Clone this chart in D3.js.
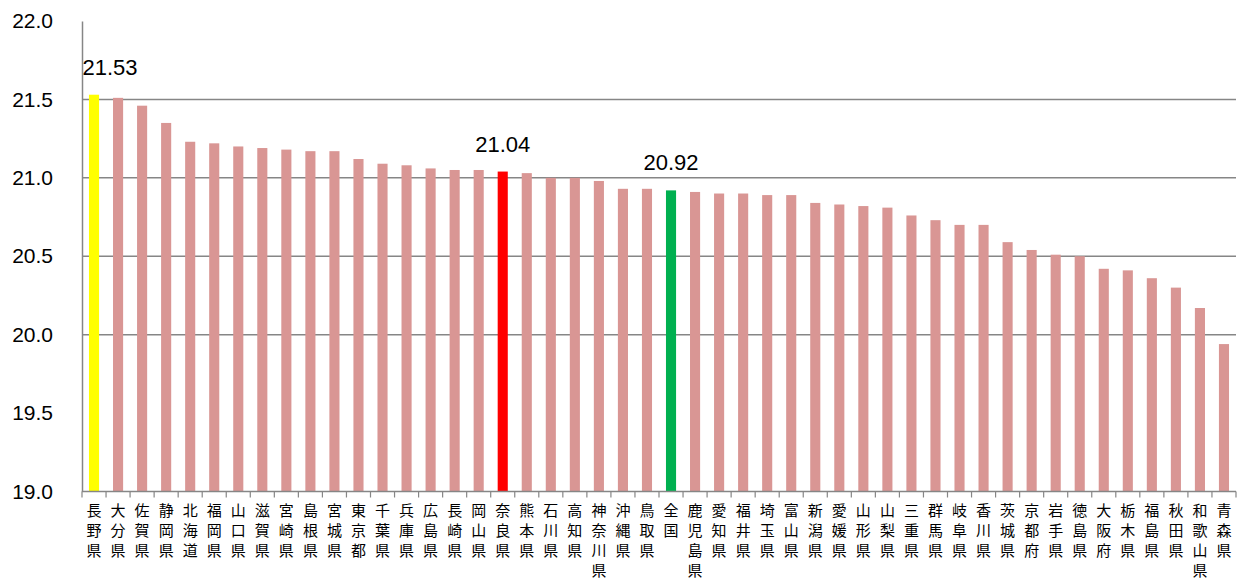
<!DOCTYPE html>
<html><head><meta charset="utf-8">
<script src="https://cdn.jsdelivr.net/npm/d3@7"></script>
<style>body{margin:0;background:#fff}svg{display:block}</style>
</head><body>
<svg id="c" width="1237" height="587"></svg>
<script>
const categories = ["長野県","大分県","佐賀県","静岡県","北海道","福岡県","山口県","滋賀県","宮崎県","島根県","宮城県","東京都","千葉県","兵庫県","広島県","長崎県","岡山県","奈良県","熊本県","石川県","高知県","神奈川県","沖縄県","鳥取県","全国","鹿児島県","愛知県","福井県","埼玉県","富山県","新潟県","愛媛県","山形県","山梨県","三重県","群馬県","岐阜県","香川県","茨城県","京都府","岩手県","徳島県","大阪府","栃木県","福島県","秋田県","和歌山県","青森県"];
const values = [21.53,21.51,21.46,21.35,21.23,21.22,21.20,21.19,21.18,21.17,21.17,21.12,21.09,21.08,21.06,21.05,21.05,21.04,21.03,21.00,21.00,20.98,20.93,20.93,20.92,20.91,20.90,20.90,20.89,20.89,20.84,20.83,20.82,20.81,20.76,20.73,20.70,20.70,20.59,20.54,20.51,20.50,20.42,20.41,20.36,20.30,20.17,19.94];
const yTicks = [19.0,19.5,20.0,20.5,21.0,21.5,22.0];
const gridTicks = [20.0,20.5,21.0,21.5];
const highlight = {"長野県":"#FFFF00","奈良県":"#FF0000","全国":"#00B050"};
const labeled = ["長野県","奈良県","全国"];

(function(){
const pLeft = 82, pRight = 1236, pTop = 21, pBottom = 491.5;
const svg = d3.select("#c");
const x = d3.scaleBand().domain(categories).range([pLeft, pRight]).paddingInner(0.58).paddingOuter(0.29);
const y = d3.scaleLinear().domain([19, 22]).range([pBottom, pTop]);
const numFont = "'Liberation Sans', Arial, sans-serif";

// gridlines
svg.append("g").selectAll("line").data(gridTicks).join("line")
  .attr("x1", pLeft).attr("x2", pRight)
  .attr("y1", d => y(d)).attr("y2", d => y(d))
  .attr("stroke", "#868686").attr("stroke-width", 1.5);

// bars
svg.append("g").selectAll("rect").data(categories).join("rect")
  .attr("x", d => x(d)).attr("width", x.bandwidth())
  .attr("y", (d, i) => y(values[i]))
  .attr("height", (d, i) => y(19) - y(values[i]))
  .attr("fill", d => highlight[d] || "#D99694");

// y axis
const yAxis = svg.append("g").attr("transform", `translate(${pLeft},0)`)
  .call(d3.axisLeft(y).tickValues(yTicks).tickFormat(d3.format(".1f")).tickSize(0).tickPadding(29));
yAxis.select(".domain").attr("stroke", "#868686").attr("stroke-width", 1.5);
yAxis.selectAll("text").attr("font-family", numFont).attr("font-size", 21).attr("fill", "#000");

// x axis line + tick marks at band boundaries
const step = x.step();
const bounds = d3.range(categories.length + 1).map(i => pLeft + i * step);
svg.append("line").attr("x1", pLeft).attr("x2", pRight).attr("y1", pBottom).attr("y2", pBottom)
  .attr("stroke", "#868686").attr("stroke-width", 1.5);
svg.append("g").selectAll("line").data(bounds).join("line")
  .attr("x1", d => d).attr("x2", d => d).attr("y1", pBottom).attr("y2", pBottom + 6)
  .attr("stroke", "#868686").attr("stroke-width", 1.2);

// category labels: one character per line, stacked vertically
const chars = [];
categories.forEach(c => Array.from(c).forEach((ch, k) => chars.push({c, ch, k})));
svg.append("g").selectAll("text").data(chars).join("text")
  .attr("font-family", "'Noto Sans CJK JP', sans-serif").attr("font-size", 15).attr("fill", "#000")
  .attr("text-anchor", "middle")
  .attr("x", d => x(d.c) + x.bandwidth() / 2)
  .attr("y", d => 516 + d.k * 20)
  .text(d => d.ch);

// data labels
svg.append("g").selectAll("text").data(labeled).join("text")
  .attr("font-family", numFont).attr("font-size", 22).attr("fill", "#000")
  .attr("text-anchor", "middle")
  .attr("x", d => Math.max(x(d) + x.bandwidth() / 2, pLeft + 28))
  .attr("y", d => y(values[categories.indexOf(d)]) - 20)
  .text(d => d3.format(".2f")(values[categories.indexOf(d)]));
})();
</script>
</body></html>
